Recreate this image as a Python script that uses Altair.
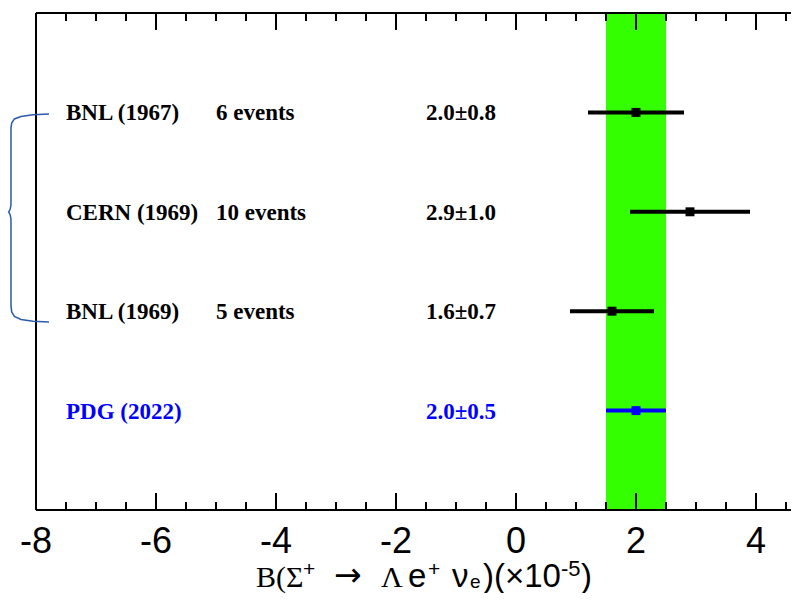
import altair as alt
import pandas as pd

# ---------------- data ----------------
experiments = ["BNL (1967)", "CERN (1969)", "BNL (1969)", "PDG (2022)"]
events = ["6 events", "10 events", "5 events", ""]
values = [2.0, 2.9, 1.6, 2.0]
errors = [0.8, 1.0, 0.7, 0.5]
value_labels = ["2.0\u00b10.8", "2.9\u00b11.0", "1.6\u00b10.7", "2.0\u00b10.5"]
rows = [4, 3, 2, 1]
groups = ["exp", "exp", "exp", "pdg"]

pdg_band = [1.5, 2.5]

major_ticks = [-8, -6, -4, -2, 0, 2, 4]
major_labels = ["-8", "-6", "-4", "-2", "0", "2", "4"]
minor_ticks = [-7.5, -7, -6.5, -5.5, -5, -4.5, -3.5, -3, -2.5, -1.5, -1, -0.5,
               0.5, 1, 1.5, 2.5, 3, 3.5, 4.5]

# curly brace grouping the three measurements (data units)
brace_x = [-7.783, -8.05, -8.25, -8.36, -8.405, -8.417, -8.417, -8.43, -8.45, -8.458,
           -8.45, -8.43, -8.417, -8.417, -8.405, -8.36, -8.25, -8.05, -7.783]
brace_y = [3.984, 3.976, 3.959, 3.934, 3.893, 3.843, 3.068, 3.028, 3.003, 2.998,
           2.993, 2.968, 2.928, 2.053, 1.993, 1.948, 1.917, 1.899, 1.892]

# ---------------- layout ----------------
W, H = 755, 497
XMIN, XMAX = -8, -8 + 755 / 60
BLUE = "#0000ff"
GREEN = "#33ff00"

df = pd.DataFrame({
    "name": experiments, "events": events, "val": values, "err": errors,
    "vlabel": value_labels, "row": rows, "group": groups,
})

xs = alt.Scale(domain=[XMIN, XMAX], nice=False, zero=False)
ys = alt.Scale(domain=[0, 5], nice=False, zero=False)
col = alt.Color("group:N", scale=alt.Scale(domain=["exp", "pdg"], range=["black", BLUE]), legend=None)

one = pd.DataFrame({"k": [0]})

band = alt.Chart(pd.DataFrame({"lo": [pdg_band[0]], "hi": [pdg_band[1]]})).mark_rect(
    color=GREEN).encode(
    x=alt.X("lo:Q", scale=xs, axis=None), x2="hi:Q",
    y=alt.value(0), y2=alt.value(H))

base = alt.Chart(df).transform_calculate(
    lo="datum.val - datum.err", hi="datum.val + datum.err",
    xname="-7.5", xev="-5.0", xval="-1.5")
bars = base.mark_rule(strokeWidth=4).encode(
    x=alt.X("lo:Q", scale=xs, axis=None), x2="hi:Q",
    y=alt.Y("row:Q", scale=ys, axis=None), color=col)
pts = base.mark_square(size=80, opacity=1).encode(
    x=alt.X("val:Q", scale=xs, axis=None),
    y=alt.Y("row:Q", scale=ys, axis=None), color=col)

txt_kw = dict(font="Liberation Serif", fontWeight="bold", fontSize=23,
              align="left", baseline="alphabetic", dy=8)
names = base.mark_text(**txt_kw).encode(
    x=alt.X("xname:Q", scale=xs, axis=None), y=alt.Y("row:Q", scale=ys, axis=None),
    text="name:N", color=col)
evs = base.mark_text(**txt_kw).encode(
    x=alt.X("xev:Q", scale=xs, axis=None), y=alt.Y("row:Q", scale=ys, axis=None),
    text="events:N", color=col)
vls = base.mark_text(**txt_kw).encode(
    x=alt.X("xval:Q", scale=xs, axis=None), y=alt.Y("row:Q", scale=ys, axis=None),
    text="vlabel:N", color=col)

# ticks (inward, top and bottom)
maj = alt.Chart(pd.DataFrame({"t": major_ticks, "lab": major_labels}))
mnr = alt.Chart(pd.DataFrame({"t": minor_ticks}))
tick_layers = [
    maj.mark_rule(color="black", strokeWidth=2).encode(
        x=alt.X("t:Q", scale=xs, axis=None), y=alt.value(H), y2=alt.value(H - 17)),
    maj.mark_rule(color="black", strokeWidth=2).encode(
        x=alt.X("t:Q", scale=xs, axis=None), y=alt.value(0), y2=alt.value(17)),
    mnr.mark_rule(color="black", strokeWidth=2).encode(
        x=alt.X("t:Q", scale=xs, axis=None), y=alt.value(H), y2=alt.value(H - 8)),
    mnr.mark_rule(color="black", strokeWidth=2).encode(
        x=alt.X("t:Q", scale=xs, axis=None), y=alt.value(0), y2=alt.value(8)),
    maj.mark_text(font="Liberation Sans", fontSize=36, align="center",
                  baseline="alphabetic", color="black").encode(
        x=alt.X("t:Q", scale=xs, axis=None), y=alt.value(540), text="lab:N"),
]

frame = [
    alt.Chart(one).mark_rule(color="black", strokeWidth=2).encode(
        x=alt.value(0), x2=alt.value(W), y=alt.value(0)),
    alt.Chart(one).mark_rule(color="black", strokeWidth=2).encode(
        x=alt.value(0), x2=alt.value(W), y=alt.value(H)),
    alt.Chart(one).mark_rule(color="black", strokeWidth=2).encode(
        x=alt.value(0), y=alt.value(0), y2=alt.value(H)),
]

brace = alt.Chart(pd.DataFrame({"bx": brace_x, "by": brace_y,
                                "i": list(range(len(brace_x)))})).mark_line(
    color="#2a5caa", strokeWidth=1.5, interpolate="linear").encode(
    x=alt.X("bx:Q", scale=xs, axis=None), y=alt.Y("by:Q", scale=ys, axis=None),
    order="i:Q")

# axis title pieces: B(Σ+ → Λ e+ νe)(×10-5)
def piece(text, x, y, font, size):
    return alt.Chart(one).mark_text(font=font, fontSize=size, align="left",
                                    baseline="alphabetic", color="black").encode(
        x=alt.value(x - 36), y=alt.value(y - 13), text=alt.value(text))

SER, SAN, DJ = "Liberation Serif", "Liberation Sans", "DejaVu Sans"
BL, SUP, SUB = 587, 576, 588   # absolute baselines (page pixels)
title = [
    piece("B(\u03a3", 256, BL, SER, 30),
    piece("+", 303, SUP, SAN, 21),
    piece("\u2192", 334, BL - 1, DJ, 33),
    piece("\u039b", 381, BL, SER, 30),
    piece("e", 408, BL, SAN, 33),
    piece("+", 428, SUP, SAN, 21),
    piece("\u03bd", 452, BL, SAN, 33),
    piece("e", 470, SUB, SAN, 19),
    piece(")(\u00d710", 483, BL, SAN, 33),
    piece("-5", 561, SUP, SAN, 22),
    piece(")", 581, BL, SAN, 33),
]

chart = alt.layer(
    band, *tick_layers, *frame, bars, pts, names, evs, vls, brace, *title
).properties(
    width=W, height=H,
    padding={"left": 28, "top": 5, "right": 0, "bottom": 83},
    autosize=alt.AutoSizeParams(type="none"),
).configure_view(stroke=None)

chart.save("out.html", embed_options={"renderer": "svg", "actions": False})
